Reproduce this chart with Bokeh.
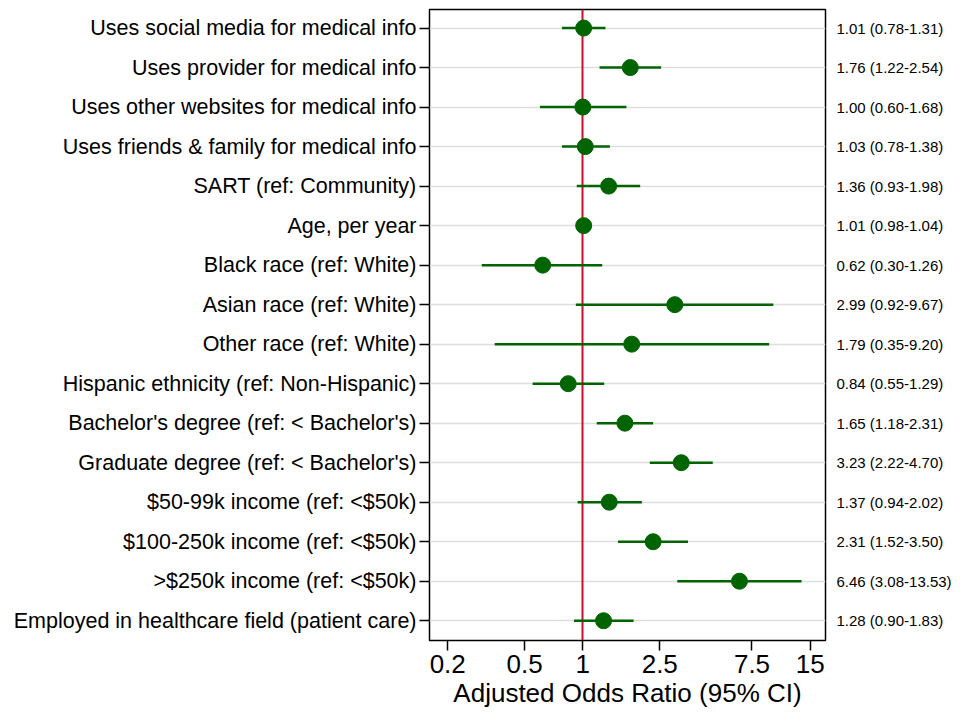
from bokeh.plotting import figure
from bokeh.models import Range1d, FixedTicker, CustomJSTickFormatter, LinearAxis
from bokeh.embed import file_html
from bokeh.resources import INLINE

labels = [
    "Uses social media for medical info",
    "Uses provider for medical info",
    "Uses other websites for medical info",
    "Uses friends & family for medical info",
    "SART (ref: Community)",
    "Age, per year",
    "Black race (ref: White)",
    "Asian race (ref: White)",
    "Other race (ref: White)",
    "Hispanic ethnicity (ref: Non-Hispanic)",
    "Bachelor's degree (ref: < Bachelor's)",
    "Graduate degree (ref: < Bachelor's)",
    "$50-99k income (ref: <$50k)",
    "$100-250k income (ref: <$50k)",
    ">$250k income (ref: <$50k)",
    "Employed in healthcare field (patient care)",
]
odds = [1.01, 1.76, 1.00, 1.03, 1.36, 1.01, 0.62, 2.99, 1.79, 0.84, 1.65, 3.23, 1.37, 2.31, 6.46, 1.28]
ci_lo = [0.78, 1.22, 0.60, 0.78, 0.93, 0.98, 0.30, 0.92, 0.35, 0.55, 1.18, 2.22, 0.94, 1.52, 3.08, 0.90]
ci_hi = [1.31, 2.54, 1.68, 1.38, 1.98, 1.04, 1.26, 9.67, 9.20, 1.29, 2.31, 4.70, 2.02, 3.50, 13.53, 1.83]
x_ticks = [0.2, 0.5, 1, 2.5, 7.5, 15]

rows = list(range(1, len(labels) + 1))
right_text = [f"{o:.2f} ({l:.2f}-{h:.2f})" for o, l, h in zip(odds, ci_lo, ci_hi)]

FONT = "Liberation Sans"
GREEN = "#006400"

p = figure(width=954, height=710, x_axis_type="log",
           x_range=Range1d(0.161, 18.0), y_range=Range1d(16.5, 0.53),
           output_backend="svg", toolbar_location=None,
           min_border_left=429, min_border_right=121,
           min_border_top=9, min_border_bottom=66)
p.background_fill_color = "white"
p.outline_line_color = "black"
p.outline_line_width = 1.5

# red reference line
p.vspan(x=[1.0], line_color="#c8102e", line_width=2)

p.segment(x0=ci_lo, y0=rows, x1=ci_hi, y1=rows, line_color=GREEN, line_width=2.5)
p.scatter(x=odds, y=rows, size=16, fill_color=GREEN, line_color=GREEN)

# x axis
xa = p.xaxis[0]
xa.ticker = FixedTicker(ticks=x_ticks, minor_ticks=[])
xa.formatter = CustomJSTickFormatter(code="return tick.toString();")
xa.axis_label = "Adjusted Odds Ratio (95% CI)"
xa.axis_label_text_font = FONT
xa.axis_label_text_font_size = "26px"
xa.axis_label_text_font_style = "normal"
xa.axis_label_text_color = "black"
xa.axis_label_standoff = 2
xa.major_label_text_font = FONT
xa.major_label_text_font_size = "26px"
xa.major_label_text_color = "black"
xa.major_label_standoff = 4
xa.major_tick_out = 10
xa.major_tick_in = 0
xa.major_tick_line_color = "black"
xa.major_tick_line_width = 1.5
xa.minor_tick_line_color = None
xa.axis_line_color = None

# left axis
ya = p.yaxis[0]
ya.ticker = FixedTicker(ticks=rows, minor_ticks=[])
ya.major_label_overrides = {r: t for r, t in zip(rows, labels)}
ya.major_label_text_font = FONT
ya.major_label_text_font_size = "21.5px"
ya.major_label_text_color = "black"
ya.major_label_standoff = 3
ya.major_tick_out = 10
ya.major_tick_in = 0
ya.major_tick_line_color = "black"
ya.major_tick_line_width = 1.5
ya.minor_tick_line_color = None
ya.axis_line_color = None

# right axis with estimates
ra = LinearAxis(ticker=FixedTicker(ticks=rows, minor_ticks=[]))
ra.major_label_overrides = {r: t for r, t in zip(rows, right_text)}
ra.major_label_text_font = FONT
ra.major_label_text_font_size = "15px"
ra.major_label_text_color = "black"
ra.major_label_standoff = 5
ra.major_tick_line_color = None
ra.minor_tick_line_color = None
ra.axis_line_color = None
p.add_layout(ra, "right")

p.xgrid.grid_line_color = None
p.ygrid.ticker = FixedTicker(ticks=rows)
p.ygrid.grid_line_color = "#dddddd"
p.ygrid.grid_line_width = 1.5

open("out.html", "w").write(file_html(p, INLINE))
